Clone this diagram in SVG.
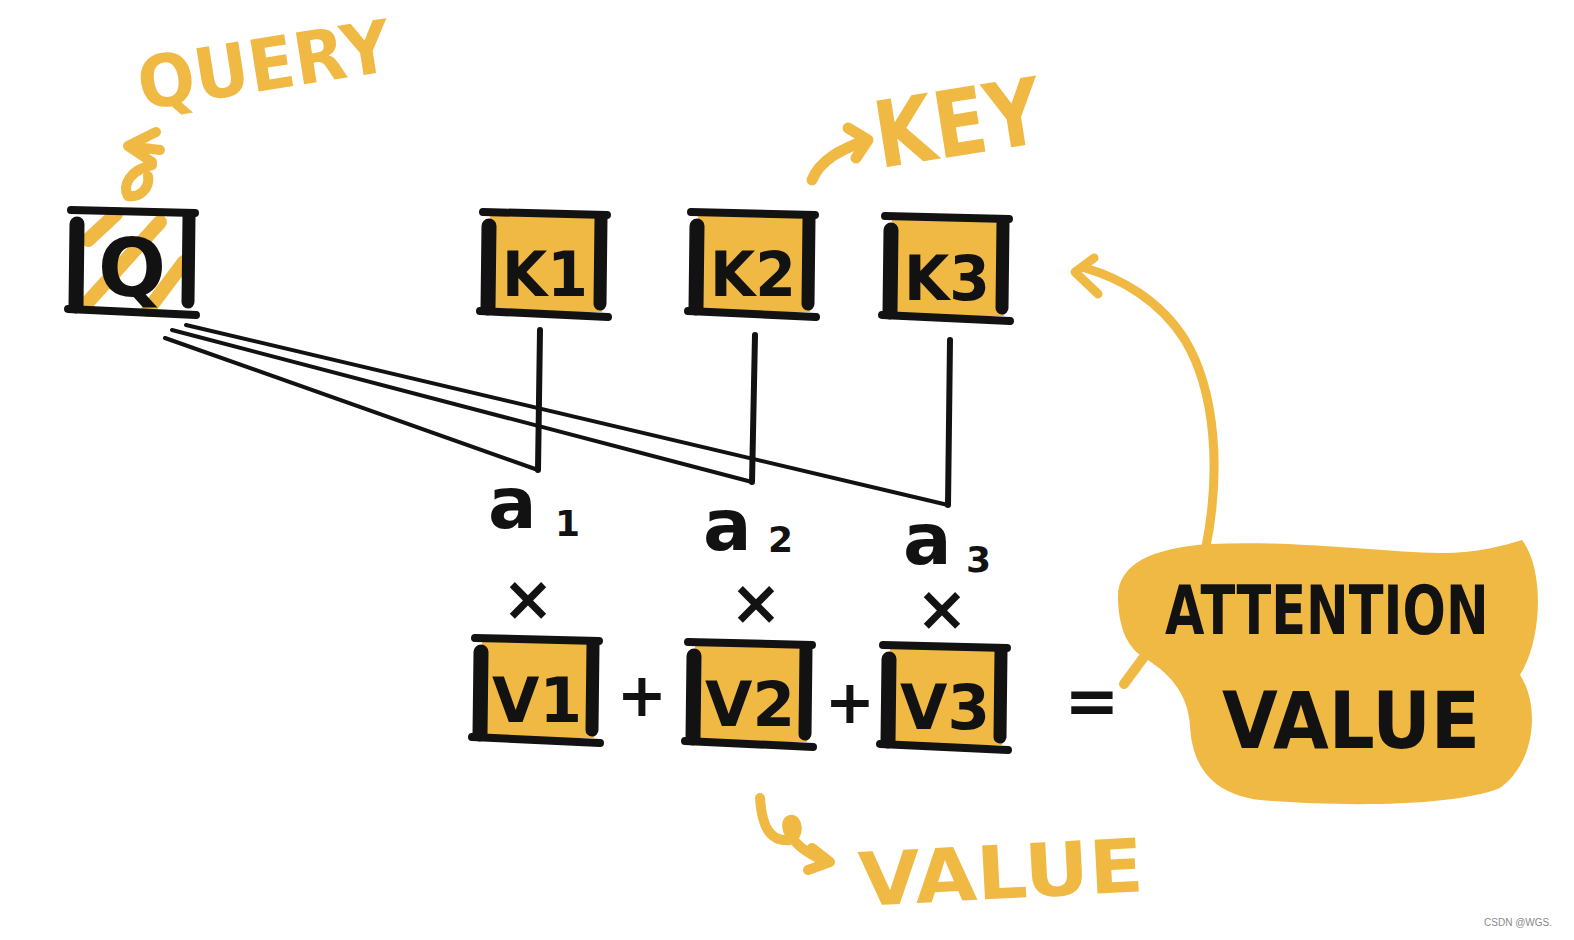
<svg xmlns="http://www.w3.org/2000/svg" xmlns:xlink="http://www.w3.org/1999/xlink" width="1574" height="940" viewBox="0 0 1574 940">
<style>
.ink{fill:none;stroke:#121212;stroke-linecap:round;stroke-linejoin:round}
.ylw{fill:none;stroke:#F0B944;stroke-linecap:round;stroke-linejoin:round}
.hand{font-family:"DejaVu Sans","Liberation Sans",sans-serif;font-weight:700}
.blk{fill:#121212}
.yt{fill:#F0B944}
.box{fill:#F0B944}
</style>
<defs>
<g id="frame">
<path class="ink" d="M3,2 L127,5" stroke-width="8"/>
<path class="ink" d="M9,16 L8,98" stroke-width="15"/>
<path class="ink" d="M121,9 L120,94" stroke-width="13"/>
<path class="ink" d="M0,101 L128,107" stroke-width="8"/>
</g>
<rect id="fill" x="10" y="6" width="112" height="96" class="box"/>
</defs>
<rect width="1574" height="940" fill="#ffffff"/>

<g id="connectors">
<path class="ink" d="M540,330 L538,470" stroke-width="6"/>
<path class="ink" d="M755,335 L752,482" stroke-width="6"/>
<path class="ink" d="M950,340 L948,505" stroke-width="6"/>
<path class="ink" d="M165,338 L538,470" stroke-width="4"/>
<path class="ink" d="M172,330 L752,482" stroke-width="4"/>
<path class="ink" d="M186,325 L948,505" stroke-width="4"/>
<path class="ylw" d="M1205,552 C1222,470 1215,390 1185,340 C1160,300 1120,278 1085,268" stroke-width="9"/>
<path class="ylw" d="M1098,294 L1075,272 L1094,258" stroke-width="9"/>
<path class="ylw" d="M1124,684 L1155,642" stroke-width="10"/>
</g>

<g id="node-q">
<path class="ylw" d="M88,240 L116,214 M88,302 L160,222 M148,310 L184,262" stroke-width="14"/>
<use xlink:href="#frame" x="68" y="208"/>
<text class="hand blk" x="132" y="296" font-size="80" text-anchor="middle">Q</text>
</g>
<g id="node-k1">
<use xlink:href="#fill" x="480" y="210"/>
<use xlink:href="#frame" x="480" y="210"/>
<text class="hand blk" x="502" y="296" font-size="62" textLength="86" lengthAdjust="spacingAndGlyphs">K1</text>
</g>
<g id="node-k2">
<use xlink:href="#fill" x="688" y="210"/>
<use xlink:href="#frame" x="688" y="210"/>
<text class="hand blk" x="710" y="296" font-size="62" textLength="86" lengthAdjust="spacingAndGlyphs">K2</text>
</g>
<g id="node-k3">
<use xlink:href="#fill" x="882" y="214"/>
<use xlink:href="#frame" x="882" y="214"/>
<text class="hand blk" x="904" y="300" font-size="62" textLength="86" lengthAdjust="spacingAndGlyphs">K3</text>
</g>
<g id="node-v1">
<use xlink:href="#fill" x="472" y="636"/>
<use xlink:href="#frame" x="472" y="636"/>
<text class="hand blk" x="492" y="722" font-size="62" textLength="90" lengthAdjust="spacingAndGlyphs">V1</text>
</g>
<g id="node-v2">
<use xlink:href="#fill" x="685" y="640"/>
<use xlink:href="#frame" x="685" y="640"/>
<text class="hand blk" x="705" y="726" font-size="62" textLength="90" lengthAdjust="spacingAndGlyphs">V2</text>
</g>
<g id="node-v3">
<use xlink:href="#fill" x="880" y="643"/>
<use xlink:href="#frame" x="880" y="643"/>
<text class="hand blk" x="900" y="729" font-size="62" textLength="90" lengthAdjust="spacingAndGlyphs">V3</text>
</g>

<g id="weights">
<text class="hand blk" x="488" y="528" font-size="72">a</text>
<text class="hand blk" x="555" y="536" font-size="36">1</text>
<text class="hand blk" x="703" y="550" font-size="72">a</text>
<text class="hand blk" x="768" y="552" font-size="36">2</text>
<text class="hand blk" x="903" y="564" font-size="72">a</text>
<text class="hand blk" x="966" y="572" font-size="36">3</text>
</g>
<g id="operators">
<text class="hand blk" x="528" y="620" font-size="62" text-anchor="middle">×</text>
<text class="hand blk" x="756" y="624" font-size="62" text-anchor="middle">×</text>
<text class="hand blk" x="942" y="630" font-size="62" text-anchor="middle">×</text>
<text class="hand blk" x="642" y="716" font-size="60" text-anchor="middle">+</text>
<text class="hand blk" x="850" y="723" font-size="60" text-anchor="middle">+</text>
<text class="hand blk" x="1092" y="724" font-size="66" text-anchor="middle">=</text>
</g>

<g id="node-attention">
<path class="box" d="M1118,600 C1116,565 1150,548 1210,544 C1290,540 1380,552 1440,553 C1480,553 1505,545 1522,540 C1545,570 1542,640 1520,675 C1540,705 1536,762 1500,788 C1450,808 1330,806 1260,800 C1212,794 1192,766 1190,726 C1188,692 1168,672 1143,657 C1126,646 1119,626 1118,600 Z"/>
<text class="hand blk" x="0" y="0" font-size="51" transform="translate(1165 634) scale(1 1.32)">ATTENTION</text>
<text class="hand blk" x="1222" y="748" font-size="78" textLength="258" lengthAdjust="spacingAndGlyphs">VALUE</text>
</g>

<g id="label-query">
<text class="hand yt" x="142" y="110" font-size="72" textLength="255" lengthAdjust="spacingAndGlyphs" transform="rotate(-9 142 110)">QUERY</text>
<path class="ylw" d="M156,132 L128,146 L152,162 M128,146 L160,150" stroke-width="10"/>
<path class="ylw" d="M152,165 C130,170 122,185 128,196 C140,198 150,188 148,176" stroke-width="10"/>
</g>
<g id="label-key">
<text class="hand yt" x="880" y="168" font-size="92" textLength="168" lengthAdjust="spacingAndGlyphs" transform="rotate(-9 880 168)">KEY</text>
<path class="ylw" d="M812,180 C820,160 840,150 866,140 M848,128 L868,140 L856,158" stroke-width="11"/>
</g>
<g id="label-value">
<text class="hand yt" x="860" y="906" font-size="74" textLength="285" lengthAdjust="spacingAndGlyphs" transform="rotate(-3 860 906)">VALUE</text>
<path class="ylw" d="M760,798 C762,830 772,842 790,840 C800,835 798,818 790,820 C782,824 790,848 828,862 M812,848 L830,862 L808,870" stroke-width="10"/>
</g>

<text x="1552" y="926" font-family="'Liberation Sans',sans-serif" font-size="10" fill="#8a8a8a" text-anchor="end">CSDN @WGS.</text>
</svg>
